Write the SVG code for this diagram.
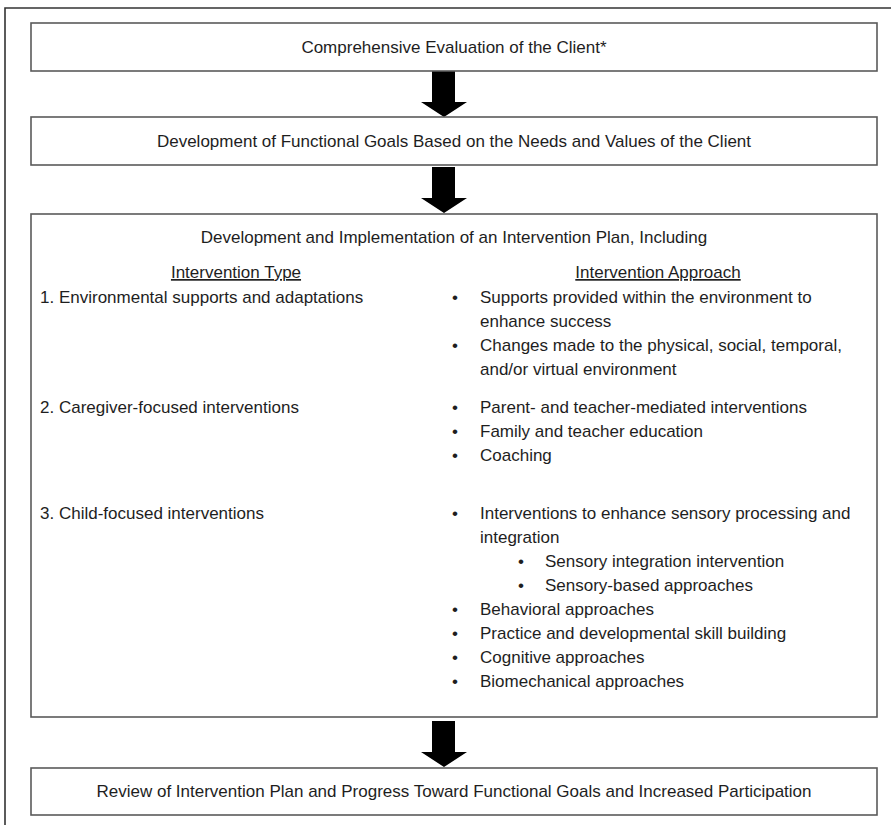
<svg xmlns="http://www.w3.org/2000/svg" xmlns:xlink="http://www.w3.org/1999/xlink" width="891" height="825" viewBox="0 0 891 825">
  <style>
    .box { fill: #ffffff; stroke: #5a5a5a; stroke-width: 1.6; }
    .frame { fill: none; stroke: #333333; stroke-width: 1.6; }
    text { font-family: "Liberation Sans Narrow", "Liberation Sans", Arial, sans-serif; font-size: 17px; fill: #1e1e1e; }
    .c { text-anchor: middle; }
    .u { text-decoration: underline; }
    .arrow { fill: #000000; }
  </style>
  <defs>
    <polygon id="downArrow" points="432,0 455,0 455,31 467,31 444,46 421,31 432,31"/>
  </defs>
  <rect width="891" height="825" fill="#ffffff"/>
  <path class="frame" d="M5,825 L5,8 L891,8"/>

  <g id="connectors">
    <use xlink:href="#downArrow" class="arrow" transform="translate(0,71)"/>
    <use xlink:href="#downArrow" class="arrow" transform="translate(0,167)"/>
    <use xlink:href="#downArrow" class="arrow" transform="translate(0,721)"/>
  </g>

  <g id="evaluation">
    <rect class="box" x="31" y="23" width="846" height="48"/>
    <text class="c" x="454" y="53">Comprehensive Evaluation of the Client*</text>
  </g>

  <g id="goals">
    <rect class="box" x="31" y="117" width="846" height="48"/>
    <text class="c" x="454" y="147">Development of Functional Goals Based on the Needs and Values of the Client</text>
  </g>

  <g id="intervention-plan">
    <rect class="box" x="31" y="214" width="846" height="503"/>
    <text class="c" x="454" y="243">Development and Implementation of an Intervention Plan, Including</text>
    <text class="c u" x="236" y="278">Intervention Type</text>
    <text class="c u" x="658" y="278">Intervention Approach</text>

    <text x="40" y="303">1. Environmental supports and adaptations</text>
    <text x="452" y="303">•</text><text x="480" y="303">Supports provided within the environment to</text>
    <text x="480" y="327">enhance success</text>
    <text x="452" y="351">•</text><text x="480" y="351">Changes made to the physical, social, temporal,</text>
    <text x="480" y="375">and/or virtual environment</text>

    <text x="40" y="413">2. Caregiver-focused interventions</text>
    <text x="452" y="413">•</text><text x="480" y="413">Parent- and teacher-mediated interventions</text>
    <text x="452" y="437">•</text><text x="480" y="437">Family and teacher education</text>
    <text x="452" y="461">•</text><text x="480" y="461">Coaching</text>

    <text x="40" y="519">3. Child-focused interventions</text>
    <text x="452" y="519">•</text><text x="480" y="519">Interventions to enhance sensory processing and</text>
    <text x="480" y="543">integration</text>
    <text x="518" y="567">•</text><text x="545" y="567">Sensory integration intervention</text>
    <text x="518" y="591">•</text><text x="545" y="591">Sensory-based approaches</text>
    <text x="452" y="615">•</text><text x="480" y="615">Behavioral approaches</text>
    <text x="452" y="639">•</text><text x="480" y="639">Practice and developmental skill building</text>
    <text x="452" y="663">•</text><text x="480" y="663">Cognitive approaches</text>
    <text x="452" y="687">•</text><text x="480" y="687">Biomechanical approaches</text>
  </g>

  <g id="review">
    <rect class="box" x="31" y="768" width="846" height="47"/>
    <text class="c" x="454" y="797">Review of Intervention Plan and Progress Toward Functional Goals and Increased Participation</text>
  </g>
</svg>
